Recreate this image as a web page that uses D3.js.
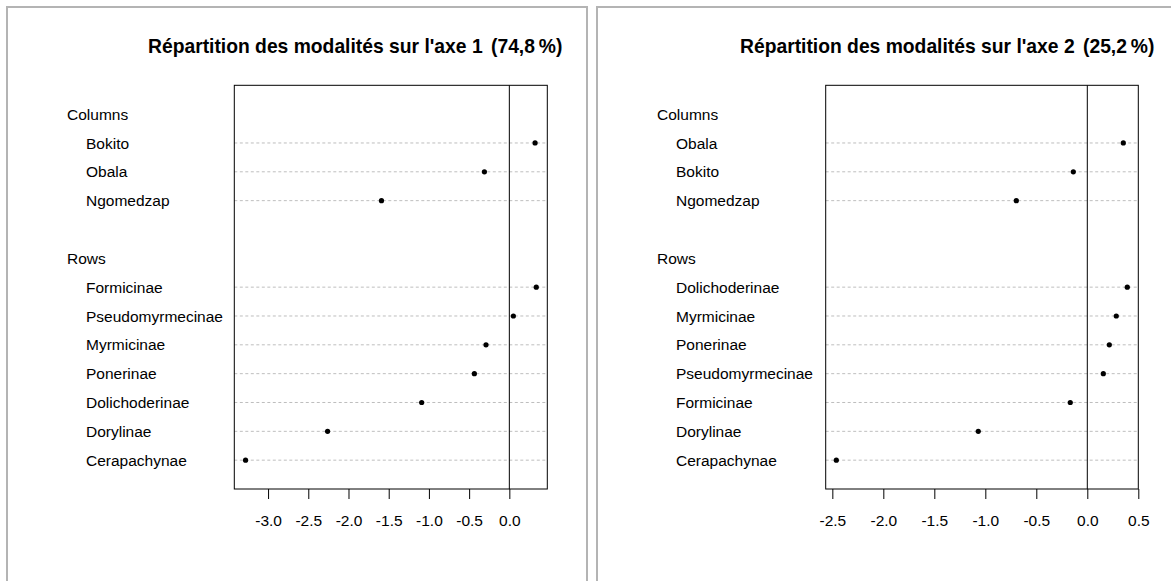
<!DOCTYPE html>
<html>
<head>
<meta charset="utf-8">
<script src="https://cdn.jsdelivr.net/npm/d3@7"></script>
<style>
  body { margin: 0; background: #fff; }
  svg { display: block; font-family: "Liberation Sans", Arial, sans-serif; }
</style>
</head>
<body>
<div id="chart"></div>
<script>
// axe 1
const colLabels1 = ["Bokito", "Obala", "Ngomedzap"];
const colValues1 = [0.32, -0.31, -1.59];
const rowLabels1 = ["Formicinae", "Pseudomyrmecinae", "Myrmicinae", "Ponerinae", "Dolichoderinae", "Dorylinae", "Cerapachynae"];
const rowValues1 = [0.335, 0.05, -0.29, -0.435, -1.09, -2.26, -3.28];
const ticks1 = [-3.0, -2.5, -2.0, -1.5, -1.0, -0.5, 0.0];

// axe 2
const colLabels2 = ["Obala", "Bokito", "Ngomedzap"];
const colValues2 = [0.353, -0.137, -0.696];
const rowLabels2 = ["Dolichoderinae", "Myrmicinae", "Ponerinae", "Pseudomyrmecinae", "Formicinae", "Dorylinae", "Cerapachynae"];
const rowValues2 = [0.392, 0.284, 0.216, 0.157, -0.167, -1.069, -2.461];
const ticks2 = [-2.5, -2.0, -1.5, -1.0, -0.5, 0.0, 0.5];

const groupNames = ["Columns", "Rows"];
const titles = ["Répartition des modalités sur l'axe 1", "Répartition des modalités sur l'axe 2"];
const inertia = ["(74,8\u2009%)", "(25,2\u2009%)"];

const width = 1171;
const height = 581;

const svg = d3.select("#chart").append("svg")
    .attr("width", width)
    .attr("height", height);

const panels = [
  { ox: 0, left: 234.3, right: 547.3, domain: [-3.42, 0.472], ticks: ticks1,
    cols: colLabels1, colVals: colValues1, rows: rowLabels1, rowVals: rowValues1,
    titleX: 148, pctX: 491 },
  { ox: 590, left: 825.7, right: 1138.3, domain: [-2.565, 0.5], ticks: ticks2,
    cols: colLabels2, colVals: colValues2, rows: rowLabels2, rowVals: rowValues2,
    titleX: 740, pctX: 1083 }
];

const boxTop = 85.3, boxBottom = 489;
// trait d'union simple comme dans R, pas le signe moins unicode
const fmt = d => d.toFixed(1);

panels.forEach((p, k) => {
  const g = svg.append("g");

  // cadre gris du panneau
  g.append("rect")
    .attr("x", 7 + p.ox).attr("y", 7)
    .attr("width", 580).attr("height", 620)
    .attr("fill", "none").attr("stroke", "#b4b4b4").attr("stroke-width", 2);

  // titre
  g.append("text")
    .attr("x", p.titleX).attr("y", 53)
    .attr("font-size", 19.3).attr("font-weight", "bold")
    .text(titles[k]);
  g.append("text")
    .attr("x", p.pctX).attr("y", 53)
    .attr("font-size", 19.3).attr("font-weight", "bold")
    .text(inertia[k]);

  const x = d3.scaleLinear().domain(p.domain).range([p.left, p.right]);
  const y = d3.scaleLinear().domain([0, 14]).range([boxBottom, boxTop]);

  // positions dotchart : rows 7..1, label Rows 8, cols 12..10, label Columns 13
  const items = [];
  p.cols.forEach((c, i) => items.push({ label: c, value: p.colVals[i], pos: 12 - i }));
  p.rows.forEach((r, i) => items.push({ label: r, value: p.rowVals[i], pos: 7 - i }));
  const groups = [{ label: groupNames[0], pos: 13 }, { label: groupNames[1], pos: 8 }];

  // lignes pointillées
  g.selectAll(".grid").data(items).enter().append("line")
    .attr("x1", p.left).attr("x2", p.right)
    .attr("y1", d => y(d.pos)).attr("y2", d => y(d.pos))
    .attr("stroke", "#bebebe").attr("stroke-dasharray", "3,2.5");

  // ligne zéro
  g.append("line")
    .attr("x1", x(0)).attr("x2", x(0))
    .attr("y1", boxTop).attr("y2", boxBottom)
    .attr("stroke", "#000");

  // points
  g.selectAll(".pt").data(items).enter().append("circle")
    .attr("cx", d => x(d.value)).attr("cy", d => y(d.pos))
    .attr("r", 2.6).attr("fill", "#000");

  // étiquettes
  g.selectAll(".lab").data(items).enter().append("text")
    .attr("x", 86 + p.ox).attr("y", d => y(d.pos))
    .attr("dy", "0.36em").attr("font-size", 15.5)
    .text(d => d.label);
  g.selectAll(".grp").data(groups).enter().append("text")
    .attr("x", 67 + p.ox).attr("y", d => y(d.pos))
    .attr("dy", "0.36em").attr("font-size", 15.5)
    .text(d => d.label);

  // boîte
  g.append("rect")
    .attr("x", p.left).attr("y", boxTop)
    .attr("width", p.right - p.left).attr("height", boxBottom - boxTop)
    .attr("fill", "none").attr("stroke", "#000");

  // axe x
  const ax = g.append("g")
    .attr("transform", "translate(0," + boxBottom + ")")
    .call(d3.axisBottom(x).tickValues(p.ticks).tickFormat(fmt).tickSize(10).tickPadding(16));
  ax.select(".domain").remove();
  ax.selectAll("text").attr("font-size", 15.5).attr("fill", "#000")
    .attr("font-family", "Liberation Sans, Arial, sans-serif");
});
</script>
</body>
</html>
